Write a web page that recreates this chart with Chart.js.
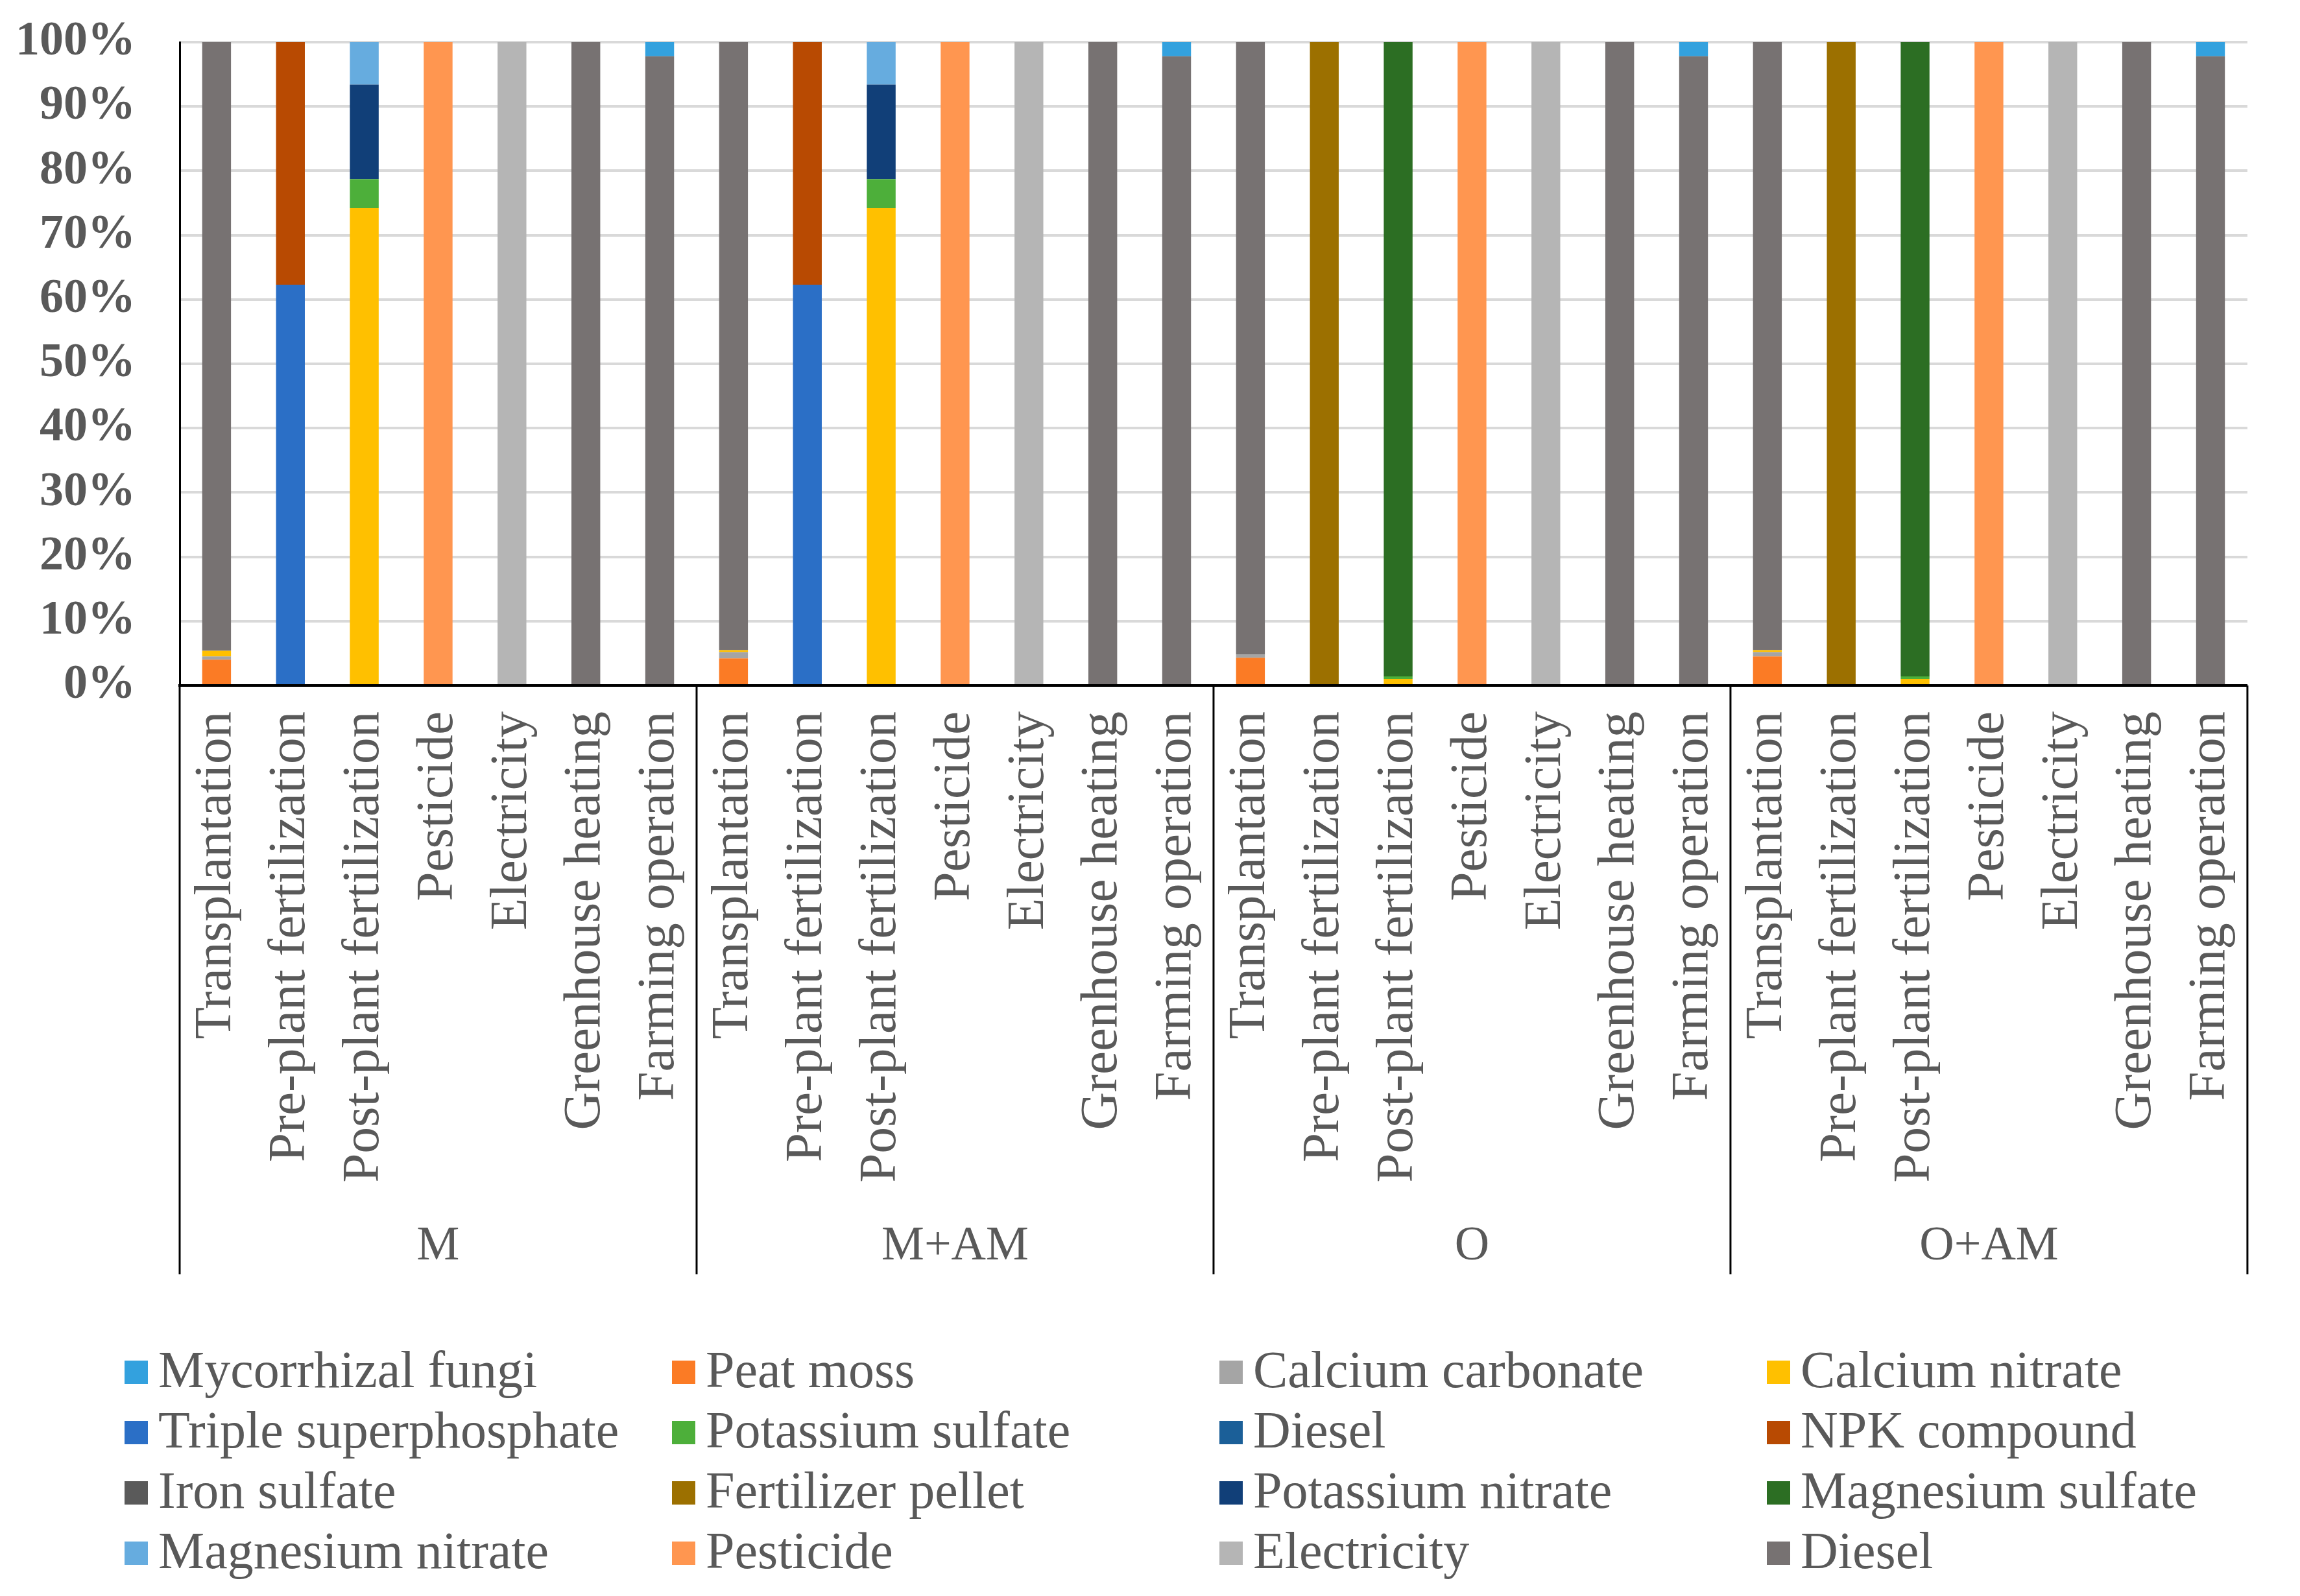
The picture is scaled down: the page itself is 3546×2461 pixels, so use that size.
<!DOCTYPE html>
<html>
<head>
<meta charset="utf-8">
<script src="https://cdn.jsdelivr.net/npm/chart.js@4.4.1/dist/chart.umd.min.js"></script>
<style>
  html, body { margin: 0; padding: 0; background: #fff; }
  canvas { display: block; }
</style>
</head>
<body>
<canvas id="chart" width="3546" height="2461"></canvas>
<script>
const stages = [
  'Transplantation',
  'Pre-plant fertilization',
  'Post-plant fertilization',
  'Pesticide',
  'Electricity',
  'Greenhouse heating',
  'Farming operation',
];
const groups = ['M', 'M+AM', 'O', 'O+AM'];
const labels = groups.flatMap(() => stages);
const yTicks = [0, 10, 20, 30, 40, 50, 60, 70, 80, 90, 100];

// share of each input, % (M | M+AM | O | O+AM)
const mycorrhizalFungi   = [0, 0, 0, 0, 0, 0, 2.2,    0, 0, 0, 0, 0, 0, 2.2,    0, 0, 0, 0, 0, 0, 2.2,    0, 0, 0, 0, 0, 0, 2.2];
const peatMoss           = [4.0, 0, 0, 0, 0, 0, 0,    4.2, 0, 0, 0, 0, 0, 0,    4.3, 0, 0, 0, 0, 0, 0,    4.5, 0, 0, 0, 0, 0, 0];
const calciumCarbonate   = [0.5, 0, 0, 0, 0, 0, 0,    1.0, 0, 0, 0, 0, 0, 0,    0.5, 0, 0, 0, 0, 0, 0,    0.7, 0, 0, 0, 0, 0, 0];
const calciumNitrate     = [0.9, 0, 74.2, 0, 0, 0, 0, 0.3, 0, 74.2, 0, 0, 0, 0, 0, 0, 1.0, 0, 0, 0, 0,    0.3, 0, 1.0, 0, 0, 0, 0];
const tripleSuperphos    = [0, 62.3, 0, 0, 0, 0, 0,   0, 62.3, 0, 0, 0, 0, 0,   0, 0, 0, 0, 0, 0, 0,      0, 0, 0, 0, 0, 0, 0];
const potassiumSulfate   = [0, 0, 4.5, 0, 0, 0, 0,    0, 0, 4.5, 0, 0, 0, 0,    0, 0, 0.4, 0, 0, 0, 0,    0, 0, 0.4, 0, 0, 0, 0];
const dieselInput        = [0, 0, 0, 0, 0, 0, 0,      0, 0, 0, 0, 0, 0, 0,      0, 0, 0, 0, 0, 0, 0,      0, 0, 0, 0, 0, 0, 0];
const npkCompound        = [0, 37.7, 0, 0, 0, 0, 0,   0, 37.7, 0, 0, 0, 0, 0,   0, 0, 0, 0, 0, 0, 0,      0, 0, 0, 0, 0, 0, 0];
const ironSulfate        = [0, 0, 0, 0, 0, 0, 0,      0, 0, 0, 0, 0, 0, 0,      0, 0, 0, 0, 0, 0, 0,      0, 0, 0, 0, 0, 0, 0];
const fertilizerPellet   = [0, 0, 0, 0, 0, 0, 0,      0, 0, 0, 0, 0, 0, 0,      0, 100, 0, 0, 0, 0, 0,    0, 100, 0, 0, 0, 0, 0];
const potassiumNitrate   = [0, 0, 14.7, 0, 0, 0, 0,   0, 0, 14.7, 0, 0, 0, 0,   0, 0, 0, 0, 0, 0, 0,      0, 0, 0, 0, 0, 0, 0];
const magnesiumSulfate   = [0, 0, 0, 0, 0, 0, 0,      0, 0, 0, 0, 0, 0, 0,      0, 0, 98.6, 0, 0, 0, 0,   0, 0, 98.6, 0, 0, 0, 0];
const magnesiumNitrate   = [0, 0, 6.6, 0, 0, 0, 0,    0, 0, 6.6, 0, 0, 0, 0,    0, 0, 0, 0, 0, 0, 0,      0, 0, 0, 0, 0, 0, 0];
const pesticide          = [0, 0, 0, 100, 0, 0, 0,    0, 0, 0, 100, 0, 0, 0,    0, 0, 0, 100, 0, 0, 0,    0, 0, 0, 100, 0, 0, 0];
const electricity        = [0, 0, 0, 0, 100, 0, 0,    0, 0, 0, 0, 100, 0, 0,    0, 0, 0, 0, 100, 0, 0,    0, 0, 0, 0, 100, 0, 0];
const diesel             = [94.6, 0, 0, 0, 0, 100, 97.8, 94.5, 0, 0, 0, 0, 100, 97.8, 95.2, 0, 0, 0, 0, 100, 97.8, 94.5, 0, 0, 0, 0, 100, 97.8];

const seriesNames = [
  'Mycorrhizal fungi', 'Peat moss', 'Calcium carbonate', 'Calcium nitrate',
  'Triple superphosphate', 'Potassium sulfate', 'Diesel', 'NPK compound',
  'Iron sulfate', 'Fertilizer pellet', 'Potassium nitrate', 'Magnesium sulfate',
  'Magnesium nitrate', 'Pesticide', 'Electricity', 'Diesel',
];
const seriesValues = [
  mycorrhizalFungi, peatMoss, calciumCarbonate, calciumNitrate,
  tripleSuperphos, potassiumSulfate, dieselInput, npkCompound,
  ironSulfate, fertilizerPellet, potassiumNitrate, magnesiumSulfate,
  magnesiumNitrate, pesticide, electricity, diesel,
];
const seriesColors = [
  '#33a1de', '#fb7b25', '#a5a5a5', '#ffc000',
  '#2b6fc6', '#4daf3a', '#1b5f98', '#b84a02',
  '#5a5a5a', '#9c7000', '#113f78', '#2c6e23',
  '#66acdf', '#ff9650', '#b5b5b5', '#777272',
];

const FONT = '"Liberation Serif", "Times New Roman", serif';
const TEXT_COLOR = '#595959';

// group names and separator lines under the category labels, plus the 4-column legend
const groupAxisPlugin = {
  id: 'groupAxis',
  afterDraw(chart) {
    const { ctx, chartArea } = chart;
    const x = chart.scales.x;
    const n = stages.length;
    const half = (x.getPixelForValue(1) - x.getPixelForValue(0)) / 2;
    const lineBottom = 1965;

    ctx.save();
    ctx.strokeStyle = '#000';
    ctx.lineWidth = 3;
    for (let g = 0; g <= groups.length; g++) {
      const px = g < groups.length ? x.getPixelForValue(g * n) - half : x.getPixelForValue(g * n - 1) + half;
      ctx.beginPath();
      ctx.moveTo(px, chartArea.bottom);
      ctx.lineTo(px, lineBottom);
      ctx.stroke();
    }

    ctx.fillStyle = TEXT_COLOR;
    ctx.font = `74px ${FONT}`;
    ctx.textAlign = 'center';
    ctx.textBaseline = 'alphabetic';
    groups.forEach((name, g) => {
      const cx = (x.getPixelForValue(g * n) + x.getPixelForValue(g * n + n - 1)) / 2;
      ctx.fillText(name, cx, 1942);
    });

    // legend
    ctx.font = `80px ${FONT}`;
    ctx.textAlign = 'left';
    chart.data.datasets.forEach((ds, i) => {
      const col = i % 4;
      const row = Math.floor(i / 4);
      const left = 192 + col * 844;
      const cy = 2116 + row * 93;
      ctx.fillStyle = ds.backgroundColor;
      ctx.fillRect(left, cy - 18, 36, 36);
      ctx.fillStyle = TEXT_COLOR;
      ctx.fillText(ds.label, left + 52, cy + 23);
    });
    ctx.restore();
  },
};

const datasets = seriesNames.map((name, i) => ({
  label: name,
  data: seriesValues[i],
  backgroundColor: seriesColors[i],
  borderWidth: 0,
  barPercentage: 0.39,
  categoryPercentage: 1,
  // the small blue cap on "Farming operation" sits on top of the stack
  order: i === 0 ? 1 : 0,
}));

const ctx = document.getElementById('chart').getContext('2d');
new Chart(ctx, {
  type: 'bar',
  data: { labels, datasets },
  options: {
    responsive: false,
    devicePixelRatio: 1,
    animation: false,
    layout: { padding: { top: 65, right: 45, bottom: 496, left: 0 } },
    plugins: {
      legend: { display: false },
      tooltip: { enabled: false },
    },
    scales: {
      x: {
        stacked: true,
        grid: { display: false, drawTicks: false },
        border: { color: '#000', width: 4 },
        ticks: {
          autoSkip: false,
          minRotation: 90,
          maxRotation: 90,
          padding: 40,
          color: TEXT_COLOR,
          font: { family: FONT, size: 81 },
        },
        afterFit: (scale) => {
          scale.height = 908;
        },
      },
      y: {
        stacked: true,
        min: 0,
        max: 100,
        afterBuildTicks: (scale) => {
          scale.ticks = yTicks.map((v) => ({ value: v }));
        },
        ticks: {
          padding: 68,
          color: TEXT_COLOR,
          font: { family: FONT, size: 74, weight: 'bold' },
          callback: (value) => value + '%',
        },
        grid: { color: '#d9d9d9', lineWidth: 4, drawTicks: false },
        border: { color: '#000', width: 3 },
        afterFit: (scale) => {
          scale.width = 277;
          // tick padding would otherwise be added above the plot
          scale.paddingTop = 0;
          scale.paddingBottom = 0;
        },
      },
    },
  },
  plugins: [groupAxisPlugin],
});
</script>
</body>
</html>
